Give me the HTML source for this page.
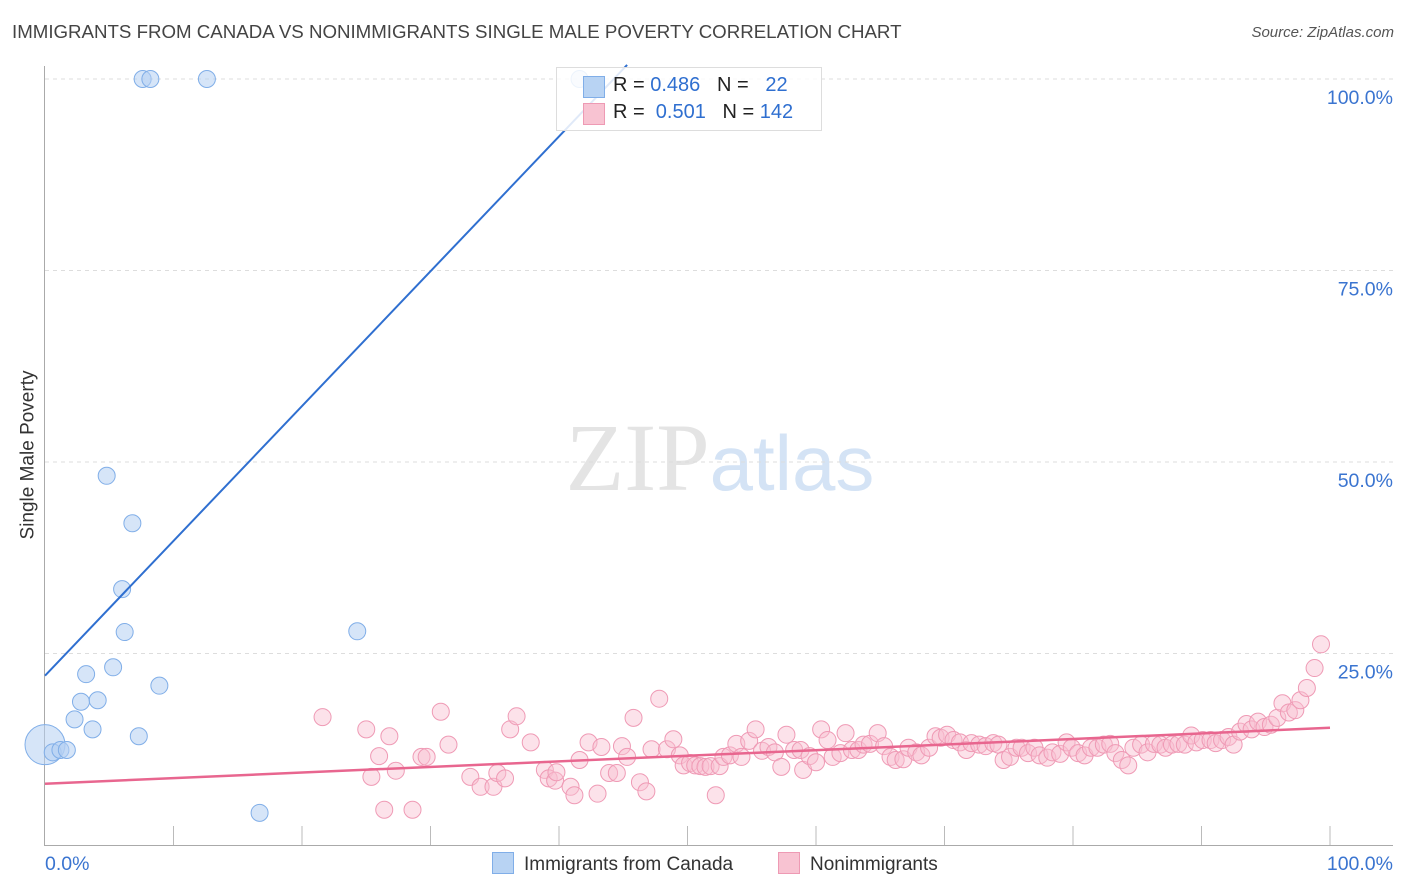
<!DOCTYPE html>
<html><head><meta charset="utf-8">
<style>
body{margin:0;background:#fff;font-family:"Liberation Sans",sans-serif;}
#wrap{position:relative;width:1406px;height:892px;overflow:hidden;}
.t{position:absolute;white-space:nowrap;}
</style></head>
<body>
<div id="wrap">
<div class="t" style="left:12px;top:21px;font-size:18.7px;color:#444;">IMMIGRANTS FROM CANADA VS NONIMMIGRANTS SINGLE MALE POVERTY CORRELATION CHART</div>
<div class="t" style="right:12px;top:24px;font-size:15px;color:#555;font-style:italic;">Source: ZipAtlas.com</div>
<div class="t" style="left:-56px;top:444px;font-size:19px;color:#333;transform:rotate(-90deg);">Single Male Poverty</div>
<svg id="svg" width="1406" height="892" style="position:absolute;left:0;top:0"></svg>
<div class="t" style="left:556px;top:67px;width:264px;height:62px;border:1px solid #ddd;background:rgba(255,255,255,0.85);"></div>
<div style="position:absolute;left:583px;top:76px;width:20px;height:20px;background:#b8d3f3;border:1px solid #80aee8;"></div>
<div style="position:absolute;left:583px;top:103px;width:20px;height:20px;background:#f8c3d2;border:1px solid #ee9ab4;"></div>
<div class="t" style="left:613px;top:74px;font-size:20px;color:#222;">R = <span style="color:#2f6fd0">0.486</span>&nbsp;&nbsp;&nbsp;N = &nbsp;&nbsp;<span style="color:#2f6fd0">22</span></div>
<div class="t" style="left:613px;top:101px;font-size:20px;color:#222;">R = &nbsp;<span style="color:#2f6fd0">0.501</span>&nbsp;&nbsp;&nbsp;N = <span style="color:#2f6fd0">142</span></div>
<div class="t" style="left:492px;top:852px;font-size:19px;color:#333;"><span style="display:inline-block;width:20px;height:20px;background:#b8d3f3;border:1px solid #80aee8;vertical-align:-4px;margin-right:10px;"></span>Immigrants from Canada</div>
<div class="t" style="left:778px;top:852px;font-size:19px;color:#333;"><span style="display:inline-block;width:20px;height:20px;background:#f8c3d2;border:1px solid #ee9ab4;vertical-align:-4px;margin-right:10px;"></span>Nonimmigrants</div>
</div>
<script>
const yTicks=[25,50,75,100];
const yTickLabels=["25.0%","50.0%","75.0%","100.0%"];
const xTicks=[0,10,20,30,40,50,60,70,80,90,100];
const canadaX=[0.6,1.2,1.7,7.6,8.2,12.6,41.6,4.8,6.8,6.0,6.2,24.3,3.2,5.3,8.9,2.8,4.1,2.3,3.7,7.3,16.7];
const canadaY=[12.1,12.4,12.4,100,100,100,100,48.2,42.0,33.4,27.8,27.9,22.3,23.2,20.8,18.7,18.9,16.4,15.1,14.2,4.2];
const canadaBigX=[0];const canadaBigY=[13.1];
const nonX=[21.6,25.0,25.4,26.0,26.8,26.4,27.3,28.6,29.3,29.7,30.8,31.4,33.1,33.9,34.9,35.2,35.8,36.2,36.7,37.8,38.9,39.2,39.7,39.8,40.9,41.2,41.6,42.3,43.0,43.3,43.9,44.5,44.9,45.3,45.8,46.3,46.8,47.2,47.8,48.4,48.9,49.4,49.7,50.2,50.6,51.0,51.4,51.8,52.2,52.5,52.8,53.3,53.8,54.2,54.8,55.3,55.8,56.3,56.8,57.3,57.7,58.3,58.8,59.0,59.5,60.0,60.4,60.9,61.3,61.9,62.3,62.8,63.3,63.7,64.2,64.8,65.3,65.8,66.2,66.8,67.2,67.8,68.2,68.8,69.3,69.7,70.2,70.7,71.2,71.7,72.1,72.7,73.2,73.8,74.2,74.6,75.1,75.6,76.0,76.5,77.0,77.4,78.0,78.4,79.0,79.5,79.9,80.4,80.9,81.4,81.9,82.4,82.9,83.3,83.8,84.3,84.7,85.3,85.8,86.3,86.8,87.2,87.7,88.2,88.7,89.2,89.6,90.1,90.7,91.1,91.6,92.1,92.5,93.0,93.5,93.9,94.4,94.9,95.4,95.9,96.3,96.8,97.3,97.7,98.2,98.8,99.3];
const nonY=[16.7,15.1,8.9,11.6,14.2,4.6,9.7,4.6,11.5,11.5,17.4,13.1,8.9,7.6,7.6,9.4,8.7,15.1,16.8,13.4,9.8,8.7,8.4,9.5,7.6,6.5,11.1,13.4,6.7,12.8,9.4,9.4,12.9,11.5,16.6,8.2,7.0,12.5,19.1,12.5,13.8,11.7,10.4,10.7,10.4,10.3,10.2,10.3,6.5,10.3,11.5,11.7,13.2,11.5,13.6,15.1,12.3,12.8,12.1,10.2,14.4,12.4,12.4,9.8,11.6,10.8,15.1,13.7,11.5,12.0,14.6,12.4,12.4,13.1,13.2,14.6,12.9,11.5,11.1,11.2,12.7,12.1,11.7,12.7,14.2,14.0,14.4,13.7,13.4,12.4,13.3,13.1,12.9,13.3,13.1,11.1,11.5,12.7,12.7,12.0,12.7,11.7,11.4,12.1,11.9,13.4,12.7,12.0,11.7,12.7,12.7,13.1,13.2,12.0,11.1,10.4,12.7,13.1,12.1,13.2,13.1,12.7,13.1,13.2,13.1,14.3,13.4,13.7,13.7,13.3,13.7,14.1,13.1,14.8,15.8,15.1,16.1,15.4,15.7,16.6,18.5,17.3,17.6,18.9,20.5,23.1,26.2];
const canadaLine=[22.1,1.76];
const nonLine=[8.0,0.073];
const X=v=>45+v*12.85, Y=v=>845-v*7.66;
const svg=document.getElementById('svg');const NS='http://www.w3.org/2000/svg';
function mk(t,a){const e=document.createElementNS(NS,t);for(const k in a)e.setAttribute(k,a[k]);svg.appendChild(e);return e;}
let w=mk('text',{x:720,y:490,'text-anchor':'middle','font-size':96,'font-family':'Liberation Serif, serif',fill:'#e4e4e4'});


w.innerHTML='ZIP<tspan fill="#d4e3f5" font-family="Liberation Sans, sans-serif" font-size="78">atlas</tspan>';
yTicks.forEach((v,i)=>{
 const g=mk('line',{x1:45,x2:1393,y1:Y(v),y2:Y(v),stroke:'#ddd','stroke-dasharray':'4,4'});
 
 
 const t=mk('text',{x:1393,y:Y(v)+25,'text-anchor':'end','font-size':19.5,fill:'#3a74d0','font-family':'Liberation Sans, sans-serif'});
 t.textContent=yTickLabels[i];
 
 
});
let ax=mk('line',{x1:44.5,x2:44.5,y1:66,y2:845,stroke:'#aaa'});


let bx=mk('line',{x1:44,x2:1393,y1:845.5,y2:845.5,stroke:'#aaa'});


xTicks.slice(1).forEach(v=>{
 const t=mk('line',{x1:X(v),x2:X(v),y1:826,y2:845,stroke:'#bbb'});
 
 
});
[[0,'0.0%',45,'start'],[100,'100.0%',1393,'end']].forEach(a=>{
 const t=mk('text',{x:a[2],y:870,'text-anchor':a[3],'font-size':19.5,fill:'#3a74d0','font-family':'Liberation Sans, sans-serif'});
 t.textContent=a[1];
 
 
});
nonX.forEach((x,i)=>{
 const c=mk('circle',{cx:X(x),cy:Y(nonY[i]),r:8.5,fill:'rgba(248,190,208,0.45)',stroke:'#ef9ab5','stroke-width':1});
 
 
});
canadaBigX.forEach((x,i)=>{
 const c=mk('circle',{cx:X(x),cy:Y(canadaBigY[i]),r:20,fill:'rgba(180,208,243,0.55)',stroke:'#80aee8'});
 
 
});
canadaX.forEach((x,i)=>{
 const c=mk('circle',{cx:X(x),cy:Y(canadaY[i]),r:8.5,fill:'rgba(180,208,243,0.55)',stroke:'#80aee8','stroke-width':1});
 
 
});
let l1=mk('line',{x1:X(0),y1:Y(canadaLine[0]),x2:X(45.3),y2:Y(canadaLine[0]+canadaLine[1]*45.3),stroke:'#2f6fd0','stroke-width':2});


let l2=mk('line',{x1:X(0),y1:Y(nonLine[0]),x2:X(100),y2:Y(nonLine[0]+nonLine[1]*100),stroke:'#e8668f','stroke-width':2.5});


</script>
</body></html>
